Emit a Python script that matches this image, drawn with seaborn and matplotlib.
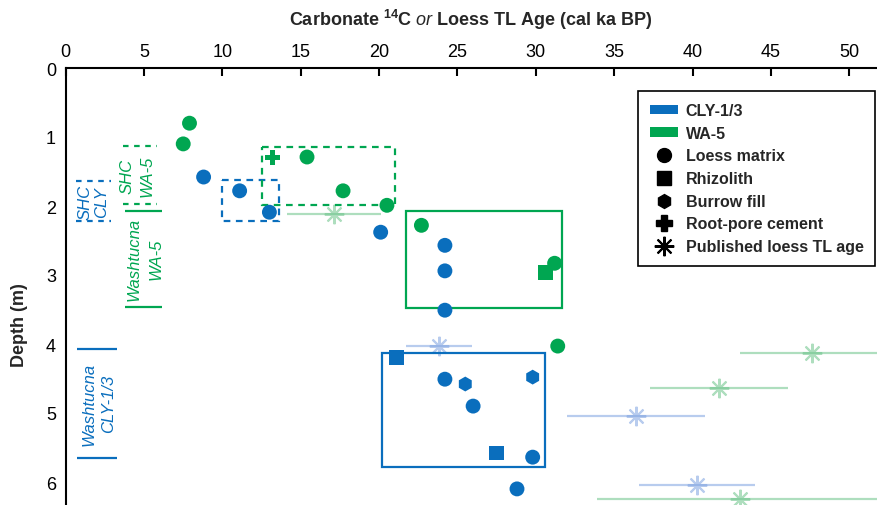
import matplotlib
matplotlib.use("Agg")
import matplotlib.pyplot as plt
from matplotlib.patches import Patch, Rectangle
from matplotlib.lines import Line2D
import pandas as pd
import seaborn as sns

# ages in cal ka BP, depths in m
cly_loess_age = [8.8, 11.1, 13.0, 20.1, 24.2, 24.2, 24.2, 24.2, 26.0, 29.8, 28.8]
cly_loess_depth = [1.58, 1.78, 2.09, 2.38, 2.57, 2.94, 3.51, 4.51, 4.90, 5.64, 6.10]
cly_rhizolith_age = [21.1, 27.5]
cly_rhizolith_depth = [4.20, 5.58]
cly_burrow_age = [25.5, 29.8]
cly_burrow_depth = [4.58, 4.48]

wa_loess_age = [7.9, 7.5, 15.4, 17.7, 20.5, 22.7, 31.2, 31.4]
wa_loess_depth = [0.80, 1.10, 1.29, 1.78, 1.99, 2.28, 2.83, 4.03]
wa_rhizolith_age = [30.6]
wa_rhizolith_depth = [2.96]
wa_root_age = [13.2]
wa_root_depth = [1.30]

# published loess TL ages with 1-sigma errors
cly_tl_age = [23.8, 36.4, 40.3]
cly_tl_err = [2.1, 4.4, 3.7]
cly_tl_depth = [4.03, 5.04, 6.04]
wa_tl_age = [17.1, 47.6, 41.7, 43.0]
wa_tl_err = [3.0, 4.6, 4.4, 9.1]
wa_tl_depth = [2.12, 4.13, 4.64, 6.25]

# unit boxes: (age min, age max, depth top, depth bottom)
cly_shc_box = (10.0, 13.6, 1.62, 2.22)
wa_shc_box = (12.5, 21.0, 1.14, 1.99)
wa_washtucna_box = (21.7, 31.7, 2.07, 3.48)
cly_washtucna_box = (20.2, 30.6, 4.13, 5.78)

# stratigraphic unit markers on the left (depth top, depth bottom)
cly_shc_unit = (1.64, 2.22)
wa_shc_unit = (1.13, 1.97)
wa_washtucna_unit = (2.07, 3.46)
cly_washtucna_unit = (4.07, 5.65)

BLUE = "#0a6ebd"
GREEN = "#00a651"
BLUE_LIGHT = "#7fa3e0"
GREEN_LIGHT = "#6cc48a"

sns.set_style("white")
plt.rcParams["font.family"] = ["Liberation Sans", "DejaVu Sans"]
plt.rcParams["mathtext.fontset"] = "custom"
plt.rcParams["mathtext.bf"] = "Liberation Sans:bold"
plt.rcParams["mathtext.it"] = "Liberation Sans:italic"
plt.rcParams["mathtext.rm"] = "Liberation Sans:bold"

rows = []
for site, mat, ages, depths in [
    ("CLY-1/3", "Loess matrix", cly_loess_age, cly_loess_depth),
    ("CLY-1/3", "Rhizolith", cly_rhizolith_age, cly_rhizolith_depth),
    ("CLY-1/3", "Burrow fill", cly_burrow_age, cly_burrow_depth),
    ("WA-5", "Loess matrix", wa_loess_age, wa_loess_depth),
    ("WA-5", "Rhizolith", wa_rhizolith_age, wa_rhizolith_depth),
    ("WA-5", "Root-pore cement", wa_root_age, wa_root_depth),
]:
    for a, d in zip(ages, depths):
        rows.append({"site": site, "material": mat, "age": a, "depth": d})
df = pd.DataFrame(rows)

fig = plt.figure(figsize=(8.77, 5.06), dpi=100)
ax = fig.add_axes([65.7 / 877, 0, 1 - 65.7 / 877, 437 / 506])

# published TL ages
for ages, errs, depths, col in [(cly_tl_age, cly_tl_err, cly_tl_depth, BLUE_LIGHT),
                                (wa_tl_age, wa_tl_err, wa_tl_depth, GREEN_LIGHT)]:
    ax.errorbar(ages, depths, xerr=errs, fmt="none", ecolor=col, elinewidth=1.6,
                alpha=0.55, capsize=0, zorder=1)
    ax.plot(ages, depths, linestyle="none", marker=(8, 2, 0), markersize=14,
            markeredgewidth=1.5, color=col, alpha=0.55, zorder=1)

# sample boxes
for box, col, ls in [(cly_shc_box, BLUE, (0, (3, 2.5))), (wa_shc_box, GREEN, (0, (3, 2.5))),
                     (wa_washtucna_box, GREEN, "-"), (cly_washtucna_box, BLUE, "-")]:
    x0, x1, y0, y1 = box
    ax.add_patch(Rectangle((x0, y0), x1 - x0, y1 - y0, fill=False, edgecolor=col,
                           linewidth=1.6, linestyle=ls, zorder=2))

sns.scatterplot(data=df, x="age", y="depth", hue="site", style="material",
                palette={"CLY-1/3": BLUE, "WA-5": GREEN},
                markers={"Loess matrix": "o", "Rhizolith": "s", "Burrow fill": "h",
                         "Root-pore cement": "P"},
                s=115, linewidth=0, legend=False, ax=ax, zorder=3)

# unit labels at the left
def unit_label(x0, x1, unit, texts, col, dashed):
    ls = (0, (2.5, 2.5)) if dashed else "-"
    for d in unit:
        ax.plot([x0, x1], [d, d], color=col, linewidth=1.6, linestyle=ls,
                solid_capstyle="butt", clip_on=False)
    ymid = (unit[0] + unit[1]) / 2
    for tx, t in texts:
        ax.text(tx, ymid, t, color=col, rotation=90, fontsize=12, style="italic",
                ha="center", va="center")

unit_label(0.66, 2.89, cly_shc_unit, [(1.23, "SHC"), (2.31, "CLY")], BLUE, True)
unit_label(3.66, 5.82, wa_shc_unit, [(3.91, "SHC"), (5.19, "WA-5")], GREEN, True)
unit_label(3.79, 6.15, wa_washtucna_unit, [(4.36, "Washtucna"), (5.76, "WA-5")], GREEN, False)
unit_label(0.72, 3.27, cly_washtucna_unit, [(1.49, "Washtucna"), (2.76, "CLY-1/3")], BLUE, False)

ax.set_xlim(0, 811.3 / 15.67)
ax.set_ylim(437 / 69, 0)
ax.set_xticks(range(0, 51, 5))
ax.set_yticks(range(0, 7))
ax.xaxis.tick_top()
ax.xaxis.set_label_position("top")
for side in ["right", "bottom"]:
    ax.spines[side].set_visible(False)
for side in ["left", "top"]:
    ax.spines[side].set_linewidth(1.5)
    ax.spines[side].set_color("black")
ax.tick_params(axis="both", direction="in", length=6, width=1.5, labelsize=13,
               colors="black")
ax.tick_params(axis="x", pad=6)
ax.tick_params(axis="y", pad=7)

ax.set_xlabel(r"Carbonate $^{\mathbf{14}}$C $\mathit{or}$ Loess TL Age (cal ka BP)",
              fontsize=13, fontweight="bold", labelpad=13)
ax.set_ylabel("Depth (m)", fontsize=13, fontweight="bold")
ax.yaxis.set_label_coords(-0.046, 0.415)

handles = [
    Patch(facecolor=BLUE, edgecolor="none", label="CLY-1/3"),
    Patch(facecolor=GREEN, edgecolor="none", label="WA-5"),
    Line2D([], [], linestyle="none", marker="o", color="black", markersize=10, label="Loess matrix"),
    Line2D([], [], linestyle="none", marker="s", color="black", markersize=10, label="Rhizolith"),
    Line2D([], [], linestyle="none", marker="h", color="black", markersize=10, label="Burrow fill"),
    Line2D([], [], linestyle="none", marker="P", color="black", markersize=11, label="Root-pore cement"),
    Line2D([], [], linestyle="none", marker=(8, 2, 0), color="black", markersize=14,
           markeredgewidth=1.5, label="Published loess TL age"),
]
leg = ax.legend(handles=handles, loc="upper right", bbox_to_anchor=(0.998, 0.947),
                borderaxespad=0, frameon=True, fancybox=False, framealpha=1,
                edgecolor="black", prop={"weight": "bold", "size": 11.5},
                handlelength=1.75, handleheight=0.55, handletextpad=0.45,
                labelspacing=0.48, borderpad=0.75)
leg.get_frame().set_linewidth(1.2)

fig.savefig("out.png", dpi=100)
